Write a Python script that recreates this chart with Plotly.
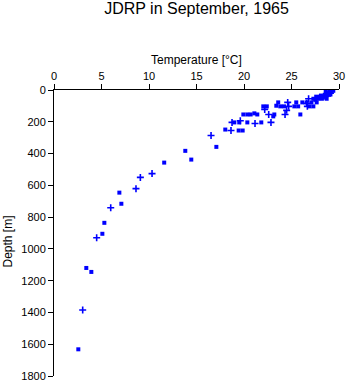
import plotly.graph_objects as go

# Squares (temperature °C, depth m)
sq_temp = [2.56, 3.4, 3.93, 5.09, 5.3, 7.09, 6.88, 11.6, 14.45, 13.82, 17.09,
           18.03, 19.44, 19.86, 18.98, 19.5, 20.35, 21.82, 19.93, 20.35, 20.7,
           21.09, 21.4, 23.19, 23.08, 25.93, 22.03, 22.4, 23.4, 23.82, 24.21,
           25.3, 25.7, 26.9, 27.3, 23.6, 25.5, 26.14, 26.6, 27.1, 27.65,
           27.3, 27.8, 28.2, 28.7, 27.6, 28.0, 28.4, 28.1, 28.5, 28.9, 28.7,
           29.0, 29.2, 29.4, 29.3, 29.0, 28.8, 28.3, 27.9, 28.6, 29.1, 27.5]
sq_depth = [1632, 1120, 1145, 905, 836, 716, 646, 457, 438, 383, 358,
            249, 255, 255, 204, 204, 204, 204, 154, 154, 154,
            147, 154, 154, 166, 154, 103, 103, 99, 103, 103,
            103, 103, 103, 103, 78, 78, 78, 78, 78, 78,
            55, 55, 55, 55, 42, 42, 42, 35, 30, 30, 20,
            15, 10, 5, 0, 0, 25, 48, 48, 12, 28, 62]

# Crosses (temperature °C, depth m)
cr_temp = [3.02, 4.49, 5.97, 8.63, 9.09, 10.32, 16.53, 18.63, 18.74, 19.61,
           21.16, 22.84, 22.6, 24.32, 24.49, 22.18, 24.7, 24.6, 26.6, 26.67,
           26.8, 28.6, 29.1]
cr_depth = [1385, 930, 741, 621, 550, 526, 286, 255, 204, 194,
            211, 204, 154, 154, 128, 122, 103, 78, 84, 103,
            55, 40, 20]

x_ticks = [0, 5, 10, 15, 20, 25, 30]
y_ticks = [0, 200, 400, 600, 800, 1000, 1200, 1400, 1600, 1800]

FONT = "Liberation Sans, Arial, Helvetica, sans-serif"
BLUE = "#0000ff"

fig = go.Figure()
fig.add_trace(go.Scatter(x=sq_temp, y=sq_depth, mode="markers",
                         marker=dict(symbol="square", size=4, color=BLUE,
                                     line=dict(width=0)),
                         showlegend=False))
fig.add_trace(go.Scatter(x=cr_temp, y=cr_depth, mode="markers",
                         marker=dict(symbol="cross-thin", size=5, color=BLUE,
                                     line=dict(width=1.6, color=BLUE)),
                         showlegend=False))

fig.update_layout(
    width=348, height=384,
    margin=dict(l=54, r=9, t=90, b=8),
    paper_bgcolor="white", plot_bgcolor="white",
    font=dict(family=FONT, size=11, color="black"),
    title=dict(text="JDRP in September, 1965", x=0.5, xref="paper",
               y=1 - 8 / 384, yref="container", yanchor="middle",
               font=dict(size=16, family=FONT, color="black")),
    xaxis=dict(side="top", range=[0, 30], tickvals=x_ticks,
               ticktext=[str(v) for v in x_ticks], automargin=False,
               ticks="outside", ticklen=5, tickwidth=1, tickcolor="black",
               showline=True, linecolor="black", linewidth=1,
               showgrid=False, zeroline=False,
               tickfont=dict(size=11, family=FONT)),
    yaxis=dict(range=[1800, 0], tickvals=y_ticks,
               ticktext=[str(v) for v in y_ticks], automargin=False,
               ticks="outside", ticklen=5, tickwidth=1, tickcolor="black",
               showline=True, linecolor="black", linewidth=1,
               showgrid=False, zeroline=False,
               tickfont=dict(size=11, family=FONT)),
    annotations=[
        dict(text="Temperature [°C]", xref="paper", yref="paper",
             x=0.5, y=(376 - 60) / 286, showarrow=False,
             xanchor="center", yanchor="middle",
             font=dict(size=12, family=FONT)),
        dict(text="Depth [m]", xref="paper", yref="paper",
             x=(7.5 - 54) / 285, y=(376 - 242) / 286, showarrow=False,
             textangle=-90, xanchor="center", yanchor="middle",
             font=dict(size=12, family=FONT)),
    ],
)

fig.write_html("out.html")
